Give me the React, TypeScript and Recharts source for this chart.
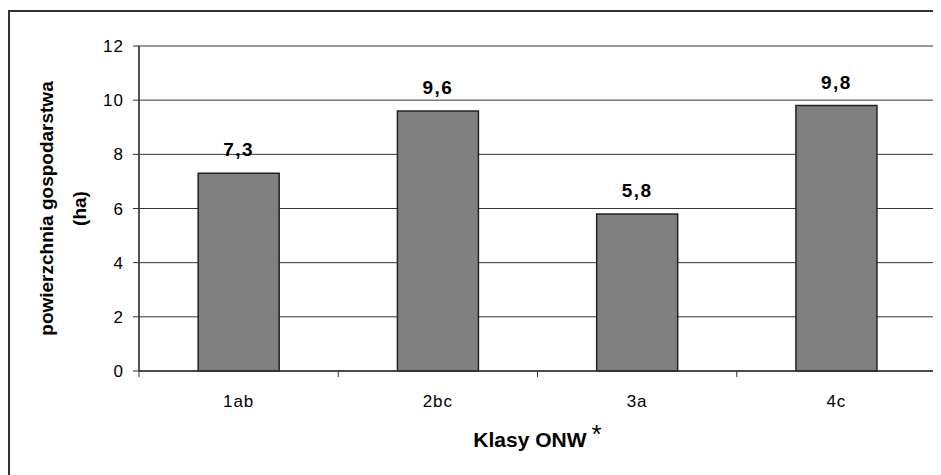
import React from "react";
import { BarChart, Bar, XAxis, YAxis, CartesianGrid, LabelList, Label, ReferenceArea } from "recharts";

const categories = ["1ab", "2bc", "3a", "4c"];
const areaValues = [7.3, 9.6, 5.8, 9.8];
const valueLabels = ["7,3", "9,6", "5,8", "9,8"];
const yTicks = [0, 2, 4, 6, 8, 10, 12];
const yTitleLines = ["powierzchnia gospodarstwa", "(ha)"];
const xTitle = "Klasy ONW";

const data = categories.map((c, i) => ({ name: c, value: areaValues[i], label: valueLabels[i] }));

const FONT = "'Liberation Sans', Arial, sans-serif";

const XTick = (props: any) => {
  const { x, y, payload, index } = props;
  const off = payload.offset || 0;
  return (
    <g>
      <line x1={x - off} x2={x - off} y1={y} y2={y + 6} stroke="#333" strokeWidth={1} />
      {index === categories.length - 1 && (
        <line x1={x + off} x2={x + off} y1={y} y2={y + 6} stroke="#333" strokeWidth={1} />
      )}
      <text x={x} y={y + 36} textAnchor="middle" fontSize={17} fontFamily={FONT} fill="#000" letterSpacing={1}>
        {payload.value}
      </text>
    </g>
  );
};

const BarValueLabel = (props: any) => {
  const { x, y, width, index } = props;
  return (
    <text x={x + width / 2} y={y - 17} textAnchor="middle" fontSize={19} fontWeight="bold" fontFamily={FONT} fill="#000" letterSpacing={1.5}>
      {valueLabels[index]}
    </text>
  );
};

const YTitle = (props: any) => {
  const vb = props.viewBox || {};
  const cy = vb.y + vb.height / 2;
  return (
    <g>
      <text x={38} y={cy} transform={`rotate(-90, 38, ${cy})`} textAnchor="middle" dominantBaseline="central" fontSize={19} fontWeight="bold" fontFamily={FONT} fill="#000">
        {yTitleLines[0]}
      </text>
      <text x={71} y={cy} transform={`rotate(-90, 71, ${cy})`} textAnchor="middle" dominantBaseline="central" fontSize={19} fontWeight="bold" fontFamily={FONT} fill="#000">
        {yTitleLines[1]}
      </text>
    </g>
  );
};

const XTitle = (props: any) => {
  const vb = props.viewBox || {};
  const cx = vb.x + vb.width / 2;
  return (
    <text x={cx} y={vb.y + 76} textAnchor="middle" fontSize={21} fontWeight="bold" fontFamily={FONT} fill="#000">
      {xTitle}
      <tspan fontSize={26} fontWeight="normal" dx={5} dy={-4}>*</tspan>
    </text>
  );
};

export default function App() {
  return (
    <div style={{ position: "relative", width: 933, height: 467, overflow: "hidden", background: "#fff" }}>
      <div style={{ position: "absolute", left: 0, top: 2, width: 1200, height: 800, border: "2px solid #333", boxSizing: "border-box" }} />
      <div style={{ position: "absolute", left: 0, top: 0 }}>
        <BarChart width={933} height={467} data={data} margin={{ top: 38, right: 5, bottom: 0, left: 0 }} barCategoryGap="29.7%">
          <CartesianGrid vertical={false} stroke="#333" strokeWidth={1} />
          <ReferenceArea y1={0} y2={12} fill="none" stroke="#999" strokeWidth={1.5} ifOverflow="visible" />
          <XAxis dataKey="name" height={104} tickLine={false} tickSize={0} tickMargin={0} axisLine={{ stroke: "#333", strokeWidth: 1.5 }} tick={<XTick />} interval={0}>
            <Label content={<XTitle />} />
          </XAxis>
          <YAxis width={131} domain={[0, 12]} ticks={yTicks} interval={0} tickSize={6} tickMargin={9} axisLine={{ stroke: "#333", strokeWidth: 1.5 }} tickLine={{ stroke: "#333" }} tick={{ fontSize: 17, fill: "#000", fontFamily: FONT, letterSpacing: 1 }}>
            <Label content={<YTitle />} />
          </YAxis>
          <Bar dataKey="value" fill="#808080" stroke="#222" strokeWidth={1.5} isAnimationActive={false}>
            <LabelList dataKey="label" content={<BarValueLabel />} />
          </Bar>
        </BarChart>
      </div>
    </div>
  );
}
